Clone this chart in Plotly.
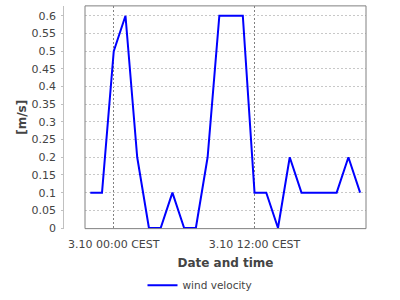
import plotly.graph_objects as go

# ---- data ----
times = [
    "2023-10-02 22:00", "2023-10-02 23:00",
    "2023-10-03 00:00", "2023-10-03 01:00", "2023-10-03 02:00", "2023-10-03 03:00",
    "2023-10-03 04:00", "2023-10-03 05:00", "2023-10-03 06:00", "2023-10-03 07:00",
    "2023-10-03 08:00", "2023-10-03 09:00", "2023-10-03 10:00", "2023-10-03 11:00",
    "2023-10-03 12:00", "2023-10-03 13:00", "2023-10-03 14:00", "2023-10-03 15:00",
    "2023-10-03 16:00", "2023-10-03 17:00", "2023-10-03 18:00", "2023-10-03 19:00",
    "2023-10-03 20:00", "2023-10-03 21:00",
]
wind_velocity = [0.1, 0.1, 0.5, 0.6, 0.2, 0, 0, 0.1, 0, 0, 0.2, 0.6, 0.6, 0.6,
                 0.1, 0.1, 0, 0.2, 0.1, 0.1, 0.1, 0.1, 0.2, 0.1]

x_tick_vals = ["2023-10-03 00:00", "2023-10-03 12:00"]
x_tick_text = ["3.10 00:00 CEST", "3.10 12:00 CEST"]
y_tick_vals = [0, 0.05, 0.1, 0.15, 0.2, 0.25, 0.3, 0.35, 0.4, 0.45, 0.5, 0.55, 0.6]
y_tick_text = ["0", "0.05", "0.1", "0.15", "0.2", "0.25", "0.3", "0.35", "0.4",
               "0.45", "0.5", "0.55", "0.6"]

W, H = 400, 300
FONT = "DejaVu Sans"

fig = go.Figure()
fig.add_trace(go.Scatter(
    x=times, y=wind_velocity, mode="lines", name="wind velocity",
    line=dict(color="#0000ff", width=2),
))

fig.update_layout(
    width=W, height=H,
    margin=dict(l=0, r=0, t=0, b=0),
    paper_bgcolor="white", plot_bgcolor="white",
    font=dict(family=FONT, size=11, color="#444444"),
    showlegend=True,
    legend=dict(orientation="h", x=0.5, xanchor="center", y=1 - 291 / H,
                yanchor="middle", font=dict(family=FONT, size=10.5, color="#444444")),
    xaxis=dict(
        type="date",
        domain=[85 / W, 366 / W],
        range=["2023-10-02 21:33", "2023-10-03 21:30"],
        tickvals=x_tick_vals, ticktext=x_tick_text,
        showgrid=True, gridcolor="#808080", griddash="2px,2px", gridwidth=1,
        showline=False, ticks="", zeroline=False, ticklabelstandoff=7,
        tickfont=dict(family=FONT, size=11, color="#444444"),
        title=dict(text="<b>Date and time</b>", font=dict(family=FONT, size=12, color="#444444"),
                   standoff=8),
        automargin=False,
    ),
    yaxis=dict(
        domain=[1 - 233.3 / H, 1 - 6 / H],
        anchor="free", position=63.3 / W,
        range=[-0.0017, 0.628],
        tickvals=y_tick_vals, ticktext=y_tick_text,
        showgrid=True, gridcolor="#c8c8c8", griddash="2px,2px", gridwidth=1,
        showline=True, linecolor="#c0c0c0", linewidth=1,
        ticks="outside", ticklen=2, tickcolor="#c0c0c0", ticklabelstandoff=3,
        zeroline=False,
        tickfont=dict(family=FONT, size=11, color="#444444"),
        title=dict(text="<b>[m/s]</b>", font=dict(family=FONT, size=12, color="#444444"),
                   standoff=1),
        automargin=False,
    ),
    shapes=[dict(type="rect", xref="x domain", yref="y domain", x0=0, x1=1, y0=0, y1=1,
                 line=dict(color="#808080", width=1), layer="above")],
)

fig.write_html("out.html")
